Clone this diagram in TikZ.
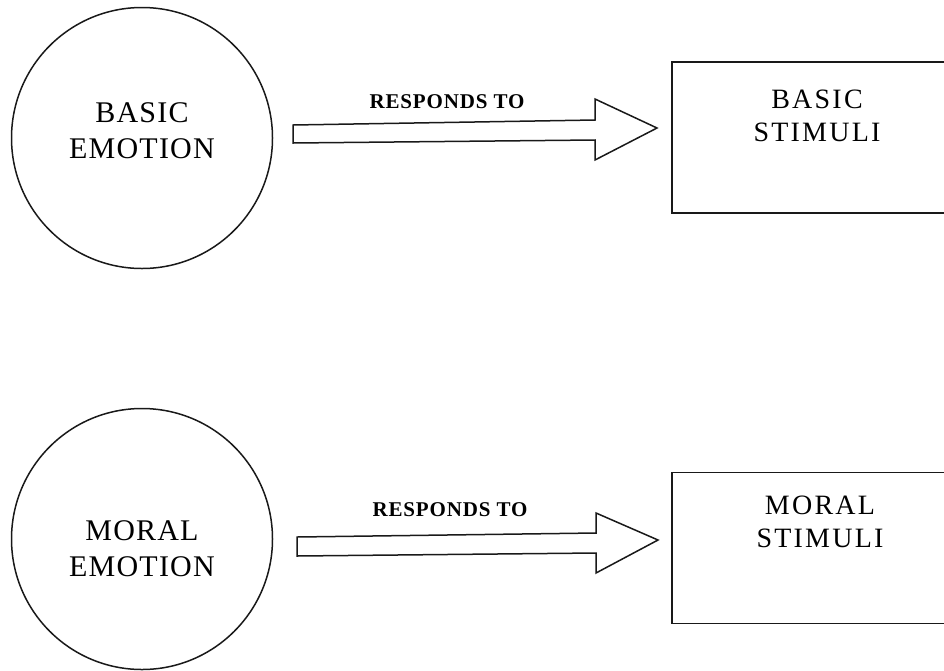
\documentclass[tikz,border=0pt]{standalone}
\usepackage{fontspec}
\setmainfont{Liberation Serif}
\newfontfamily\emofont{Liberation Serif}[LetterSpace=4]
\newfontfamily\stimfont{Liberation Serif}[LetterSpace=8]
\newfontfamily\lblfont{Liberation Serif}[LetterSpace=4]
\begin{document}
\begin{tikzpicture}[x=1pt,y=-1pt,
  outline/.style={draw=black!90, line width=1.5pt},
  emo/.style={outline, circle, minimum size=261pt, inner sep=0pt},
  stim/.style={outline, rectangle, minimum width=278pt, minimum height=151pt, inner sep=0pt},
  bigtext/.style={font=\emofont\fontsize{30}{36}\selectfont, align=center},
  boxtext/.style={font=\stimfont\fontsize{28}{33}\selectfont, align=center},
  lbl/.style={font=\lblfont\fontsize{21}{24}\selectfont\bfseries},
  blockarrow/.style={outline, fill=white, line join=miter}]
\useasboundingbox (0,0) rectangle (944,670);
% top row
\node[emo] (be) at (142,138) {};
\node[bigtext] (bet) at (142,131) {BASIC\\EMOTION};
\node[stim] (bs) at (811,137.5) {};
\node[boxtext] (bst) at (817,116) {BASIC\\STIMULI};
\draw[blockarrow] (293,125) -- (595,120) -- (595,99) -- (657,128) -- (595,160) -- (595,140) -- (293,143) -- cycle;
\node[lbl] (l1) at (447,102) {RESPONDS TO};
% bottom row
\node[emo] (me) at (142,539) {};
\node[bigtext] (met) at (142,549) {MORAL\\EMOTION};
\node[stim] (ms) at (811,548) {};
\node[boxtext] (mst) at (820,522) {MORAL\\STIMULI};
\draw[blockarrow] (297,537) -- (596,533) -- (596,513) -- (658,540) -- (596,573) -- (596,553) -- (297,556) -- cycle;
\node[lbl] (l2) at (450,510) {RESPONDS TO};
\end{tikzpicture}
\end{document}
